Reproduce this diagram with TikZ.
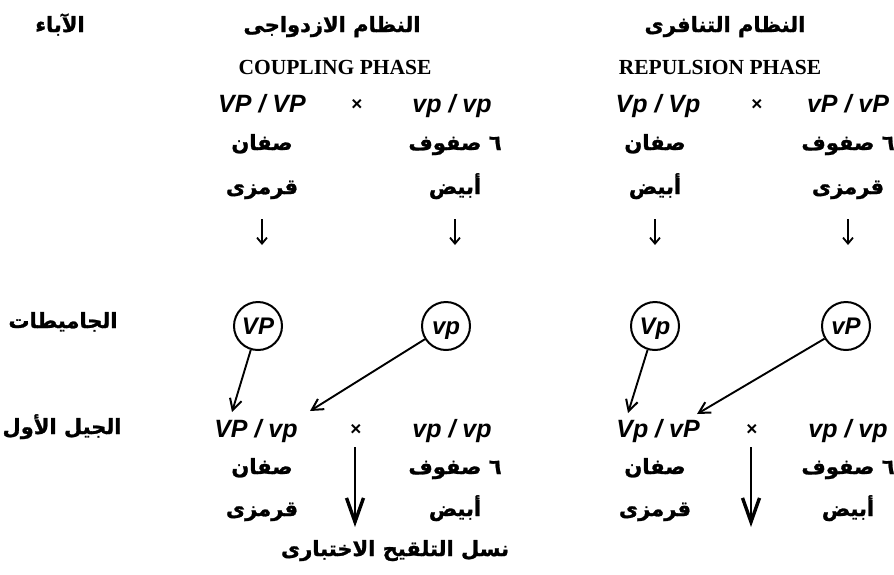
\documentclass[tikz,border=0pt]{standalone}
\usepackage{fontspec}
\setmainfont{Liberation Serif}
\newfontfamily\arfont[Script=Arabic,BoldFont={DejaVu Sans Bold},BoldFeatures={FakeBold=1.2}]{DejaVu Sans}
\newfontfamily\lsans{Liberation Sans}
\TeXXeTstate=1
\usetikzlibrary{arrows.meta}
\newcommand{\artxt}[1]{\beginR #1\endR}
\tikzset{
  ar/.style={font=\arfont\bfseries\fontsize{21}{23}\selectfont, inner sep=0pt,
    text height=15pt, text depth=7pt},
  arhead/.style={ar},
  phase/.style={font=\bfseries\fontsize{21.5}{23}\selectfont, inner sep=0pt},
  geno/.style={font=\lsans\bfseries\itshape\fontsize{25}{27}\selectfont, inner sep=0pt,
    text height=18pt, text depth=1pt},
  times/.style={font=\lsans\bfseries\fontsize{19}{21}\selectfont, inner sep=0pt,
    text height=12pt, text depth=0pt},
  gam/.style={draw, circle, line width=2pt, minimum size=48pt, inner sep=0pt,
    font=\lsans\bfseries\itshape\fontsize{24}{26}\selectfont, text height=17pt, text depth=1pt},
  smallarr/.style={line width=1.8pt, -{Straight Barb[length=6pt,width=10pt]}},
  diagarr/.style={line width=1.9pt, -{Straight Barb[length=11pt,width=12pt,line width=2pt]}},
  bigarr/.style={line width=2pt, -{Straight Barb[length=24pt,width=17pt,line width=3.4pt]}}
}
\begin{document}
\begin{tikzpicture}[x=1pt,y=-1pt]
\useasboundingbox (0,0) rectangle (894,574);
% headings
\node[arhead] (hp) at (60,28) {\artxt{الآباء}};
\node[arhead] (hc) at (332,28) {\artxt{النظام الازدواجى}};
\node[arhead] (hr) at (725,28) {\artxt{النظام التنافرى}};
\node[phase] (pc) at (335,67) {COUPLING PHASE};
\node[phase] (pr) at (720,67) {REPULSION PHASE};
% parents
\node[geno] (p1) at (262,104) {VP / VP};
\node[times] (x1) at (357,104) {×};
\node[geno] (p2) at (452,104) {vp / vp};
\node[geno] (p3) at (658,104) {Vp / Vp};
\node[times] (x2) at (757,104) {×};
\node[geno] (p4) at (848,104) {vP / vP};
\node[ar] (r1a) at (262,146) {\artxt{صفان}};
\node[ar] (r1b) at (455,146) {\artxt{٦ صفوف}};
\node[ar] (r1c) at (655,146) {\artxt{صفان}};
\node[ar] (r1d) at (848,146) {\artxt{٦ صفوف}};
\node[ar] (c1a) at (262,190) {\artxt{قرمزى}};
\node[ar] (c1b) at (455,190) {\artxt{أبيض}};
\node[ar] (c1c) at (655,190) {\artxt{أبيض}};
\node[ar] (c1d) at (848,190) {\artxt{قرمزى}};
% small arrows
\foreach \i/\xx in {1/262,2/455,3/655,4/848}{
  \coordinate (as\i) at (\xx,219);
  \coordinate (ae\i) at (\xx,245);
  \draw[smallarr] (as\i) -- (ae\i);
}
% gametes
\node[arhead] (lg) at (63,324) {\artxt{الجاميطات}};
\node[gam] (g1) at (258,326) {VP};
\node[gam] (g2) at (446,326) {vp};
\node[gam] (g3) at (655,326) {Vp};
\node[gam] (g4) at (846,326) {vP};
% F1
\node[arhead] (lf) at (62,430) {\artxt{الجيل الأول}};
\node[geno] (f1) at (256,429) {VP / vp};
\node[times] (x3) at (356,429) {×};
\node[geno] (f2) at (452,429) {vp / vp};
\node[geno] (f3) at (658,429) {Vp / vP};
\node[times] (x4) at (752,429) {×};
\node[geno] (f4) at (848,429) {vp / vp};
\node[ar] (r2a) at (262,470) {\artxt{صفان}};
\node[ar] (r2b) at (455,470) {\artxt{٦ صفوف}};
\node[ar] (r2c) at (655,470) {\artxt{صفان}};
\node[ar] (r2d) at (848,470) {\artxt{٦ صفوف}};
\node[ar] (c2a) at (262,512) {\artxt{قرمزى}};
\node[ar] (c2b) at (455,512) {\artxt{أبيض}};
\node[ar] (c2c) at (655,512) {\artxt{قرمزى}};
\node[ar] (c2d) at (848,512) {\artxt{أبيض}};
\node[arhead] (bt) at (395,552) {\artxt{نسل التلقيح الاختبارى}};
% diagonal arrows
\coordinate (t1) at (232,412);
\coordinate (t2) at (310,411);
\coordinate (t3) at (628,413);
\coordinate (t4) at (697,414);
\draw[diagarr] (g1) -- (t1);
\draw[diagarr] (g2) -- (t2);
\draw[diagarr] (g3) -- (t3);
\draw[diagarr] (g4) -- (t4);
% test cross arrows
\coordinate (d1s) at (355,447);
\coordinate (d1e) at (355,527);
\coordinate (d2s) at (751,447);
\coordinate (d2e) at (751,527);
\draw[bigarr] (d1s) -- (d1e);
\draw[bigarr] (d2s) -- (d2e);
\end{tikzpicture}
\end{document}
